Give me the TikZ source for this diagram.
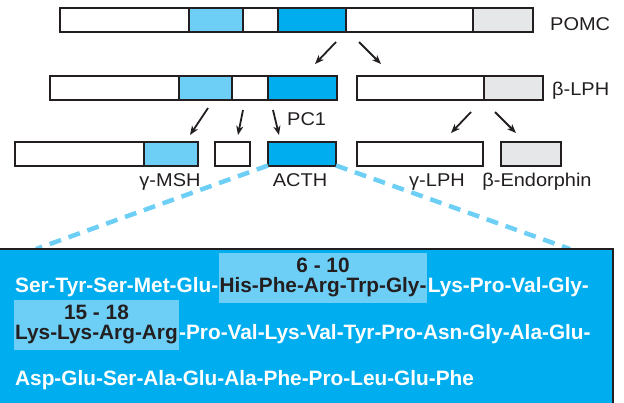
\documentclass[tikz,border=0pt]{standalone}
\usepackage{fontspec}
\setmainfont{Liberation Sans}
\newfontfamily\labelfont[FakeStretch=1.08]{Liberation Sans}
\usetikzlibrary{arrows.meta}
\definecolor{ink}{HTML}{231F20}
\definecolor{acthblue}{HTML}{00AEEF}
\definecolor{msh}{HTML}{6DCFF6}
\definecolor{endo}{HTML}{E6E7E8}
\tikzset{
  seg/.style={draw=ink, line width=2pt, inner sep=0pt, outer sep=0pt, minimum height=23.5pt, anchor=north west},
  cut/.style={-{Stealth[length=9pt,width=7pt,inset=2.5pt]}, line width=1.8pt, ink},
  lbl/.style={font=\labelfont\fontsize{18.5}{22}\selectfont, text=ink, inner sep=0pt, anchor=base},
  seq/.style={font=\fontsize{20.8}{24}\selectfont\bfseries, inner sep=0pt, anchor=base west, text=white},
  hot/.style={seq, text=ink, fill=msh, text height=39pt, text depth=11pt, inner xsep=1pt},
  tag/.style={font=\fontsize{20.8}{24}\selectfont\bfseries, text=ink, inner sep=0pt, anchor=base},
}
\begin{document}
\begin{tikzpicture}[x=1pt, y=-1pt]
  \useasboundingbox (0,0) rectangle (624,402);

  % POMC
  \node[seg, fill=white, minimum width=129pt] (pomcA) at (60,8) {};
  \node[seg, fill=msh, minimum width=54pt] (pomcB) at (pomcA.north east) {};
  \node[seg, fill=white, minimum width=35pt] (pomcC) at (pomcB.north east) {};
  \node[seg, fill=acthblue, minimum width=68pt] (pomcD) at (pomcC.north east) {};
  \node[seg, fill=white, minimum width=127pt] (pomcE) at (pomcD.north east) {};
  \node[seg, fill=endo, minimum width=60pt] (pomcF) at (pomcE.north east) {};
  \node[lbl, anchor=base west] (pomcname) at (550,30.5) {POMC};

  % first cleavage
  \draw[cut] (336,42) -- (315,64);
  \draw[cut] (359,42) -- (381,64);

  % pro-ACTH and beta-LPH
  \node[seg, fill=white, minimum width=129pt] (proA) at (50,76) {};
  \node[seg, fill=msh, minimum width=53pt] (proB) at (proA.north east) {};
  \node[seg, fill=white, minimum width=36pt] (proC) at (proB.north east) {};
  \node[seg, fill=acthblue, minimum width=69pt] (proD) at (proC.north east) {};
  \node[seg, fill=white, minimum width=127pt] (lphA) at (357,76) {};
  \node[seg, fill=endo, minimum width=59pt] (lphB) at (lphA.north east) {};
  \node[lbl, anchor=base west] (lphname) at (552,95) {β-LPH};

  % second cleavage
  \draw[cut] (208,108) -- (190,135);
  \draw[cut] (243,110) -- (238,135);
  \draw[cut] (273,110) -- (279,135);
  \node[lbl, anchor=base west] (pcname) at (287,125) {PC1};
  \draw[cut] (471,112) -- (451,133);
  \draw[cut] (495,112) -- (516,133);

  % products
  \node[seg, fill=white, minimum width=129pt] (mshA) at (15,142) {};
  \node[seg, fill=msh, minimum width=54pt] (mshB) at (mshA.north east) {};
  \node[seg, fill=white, minimum width=35pt] (jp) at (215,142) {};
  \node[seg, fill=acthblue, minimum width=68pt] (acth) at (268,142) {};
  \node[seg, fill=white, minimum width=126pt] (glph) at (357,142) {};
  \node[seg, fill=endo, minimum width=60pt] (bend) at (501,142) {};
  \node[lbl] at (170,186) {γ-MSH};
  \node[lbl] at (300,186) {ACTH};
  \node[lbl] at (437,186) {γ-LPH};
  \node[lbl] at (537,186) {β-Endorphin};

  % zoom into ACTH
  \coordinate (zoomL) at (36,249);
  \coordinate (zoomR) at (570,249);
  \draw[msh, line width=4.5pt, dash pattern=on 12pt off 8pt] (acth.south west) -- (zoomL);
  \draw[msh, line width=4.5pt, dash pattern=on 12pt off 8pt] (acth.south east) -- (zoomR);
  \draw[ink, line width=2pt, fill=acthblue] (-5,249) rectangle (613,412);

  % sequence
  \node[seq] (ln1a) at (15,292) {Ser-Tyr-Ser-Met-Glu-};
  \node[hot] (ln1b) at (ln1a.base east) {His-Phe-Arg-Trp-Gly-};
  \node[seq] (ln1c) at (ln1b.base east) {Lys-Pro-Val-Gly-};
  \node[tag] at ([yshift=20pt]ln1b.base) {6 - 10};
  \node[hot] (ln2a) at (14,339) {Lys-Lys-Arg-Arg};
  \node[seq] (ln2b) at (ln2a.base east) {-Pro-Val-Lys-Val-Tyr-Pro-Asn-Gly-Ala-Glu-};
  \node[tag] at ([yshift=20pt]ln2a.base) {15 - 18};
  \node[seq] (ln3) at (15,385) {Asp-Glu-Ser-Ala-Glu-Ala-Phe-Pro-Leu-Glu-Phe};
\end{tikzpicture}
\end{document}
